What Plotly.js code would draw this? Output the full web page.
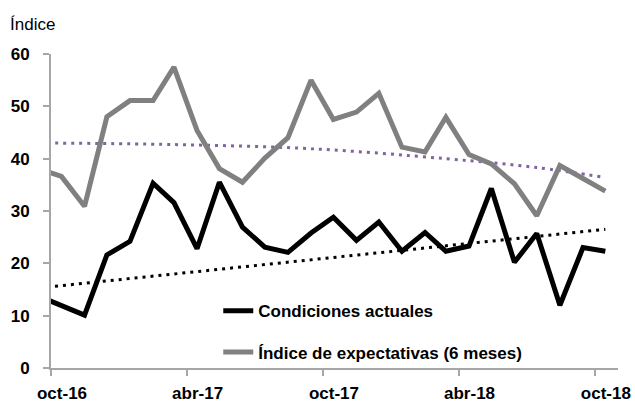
<!DOCTYPE html>
<html>
<head>
<meta charset="utf-8">
<script src="https://cdn.plot.ly/plotly-3.0.1.min.js"></script>
<style>
html,body{margin:0;padding:0;background:#fff;}
#chart{width:635px;height:404px;}
</style>
</head>
<body>
<div id="chart"></div>
<script>
// Monthly observations (mid-month), sep-16 is clipped by the axis start
const months = ['2016-09-15','2016-10-15','2016-11-15','2016-12-15','2017-01-15','2017-02-15','2017-03-15','2017-04-15','2017-05-15','2017-06-15','2017-07-15','2017-08-15','2017-09-15','2017-10-15','2017-11-15','2017-12-15','2018-01-15','2018-02-15','2018-03-15','2018-04-15','2018-05-15','2018-06-15','2018-07-15','2018-08-15','2018-09-15','2018-10-15'];
const condicionesActuales = [13.7,11.9,10.1,21.6,24.2,35.3,31.6,22.8,35.5,26.9,23.1,22.1,25.8,28.8,24.4,27.9,22.3,25.9,22.3,23.3,34.3,20.2,25.7,12.0,23.0,22.3];
const indiceExpectativas = [38.1,36.6,30.9,48.0,51.1,51.1,57.5,45.4,38.1,35.5,40.1,44.0,55.0,47.5,48.9,52.5,42.2,41.3,47.9,40.8,39.0,35.2,29.1,38.7,36.2,33.8];

// Trend lines
const trendActualesDates = ['2016-09-15','2018-10-15'];
const trendActualesValues = [15.3,26.5];
const trendExpectDates = ['2016-09-15','2017-03-15','2017-09-15','2018-03-15','2018-07-15','2018-10-15'];
const trendExpectValues = [43.0,42.7,41.9,40.0,38.3,36.4];

// Axis ticks
const tickDates = ['2016-10-01','2017-04-01','2017-10-01','2018-04-01','2018-10-01'];
const tickLabels = ['oct-16','abr-17','oct-17','abr-18','oct-18'];
const yTicks = [0,10,20,30,40,50,60];

const FONT = '"Liberation Sans Narrow", "Arial Narrow", "Liberation Sans", Arial, sans-serif';

const traces = [
  {x: trendExpectDates, y: trendExpectValues, mode:'lines', line:{color:'#8064a2', width:3, dash:'3px,5px', shape:'spline'}, showlegend:false, hoverinfo:'skip'},
  {x: trendActualesDates, y: trendActualesValues, mode:'lines', line:{color:'#000000', width:3, dash:'3px,5px'}, showlegend:false, hoverinfo:'skip'},
  {x: months, y: indiceExpectativas, mode:'lines', name:'Índice de expectativas (6 meses)', line:{color:'#808080', width:5}, legendgroup:'b', legendrank:2},
  {x: months, y: condicionesActuales, mode:'lines', name:'Condiciones actuales', line:{color:'#000000', width:5}, legendgroup:'a', legendrank:1}
];

const axisColor = '#a6a6a6';
const layout = {
  width:635, height:404,
  margin:{l:51, r:17, t:54, b:36, pad:0},
  paper_bgcolor:'#ffffff', plot_bgcolor:'#ffffff',
  font:{family:FONT, size:17, color:'#000000'},
  showlegend:true,
  legend:{x:0.295, y:0.238, xanchor:'left', yanchor:'top', bgcolor:'rgba(0,0,0,0)',
          font:{family:FONT, size:17, color:'#000', weight:'bold'}, traceorder:'grouped', tracegroupgap:16},
  xaxis:{type:'date', range:['2016-10-01','2018-11-01'], tickmode:'array', tickvals:tickDates, ticktext:tickLabels,
         ticks:'outside', ticklen:6, tickwidth:2, tickcolor:axisColor, showline:true, linecolor:axisColor, linewidth:2,
         showgrid:false, zeroline:false, ticklabelshift:11, ticklabelstandoff:3,
         tickfont:{family:FONT, size:17, color:'#000', weight:'bold'}},
  yaxis:{range:[0,60], tickmode:'array', tickvals:yTicks, ticks:'outside', ticklen:6, tickwidth:2, tickcolor:axisColor,
         showline:true, linecolor:axisColor, linewidth:2, showgrid:false, zeroline:false, ticklabelstandoff:10,
         tickfont:{family:FONT, size:17, color:'#000', weight:'bold'}},
  annotations:[
    {text:'Índice', xref:'paper', yref:'paper', x:-0.075, y:1.095, xanchor:'left', yanchor:'middle', showarrow:false,
     font:{family:FONT, size:17, color:'#000'}}
  ]
};

Plotly.newPlot('chart', traces, layout, {staticPlot:true, displayModeBar:false});
</script>
</body>
</html>
